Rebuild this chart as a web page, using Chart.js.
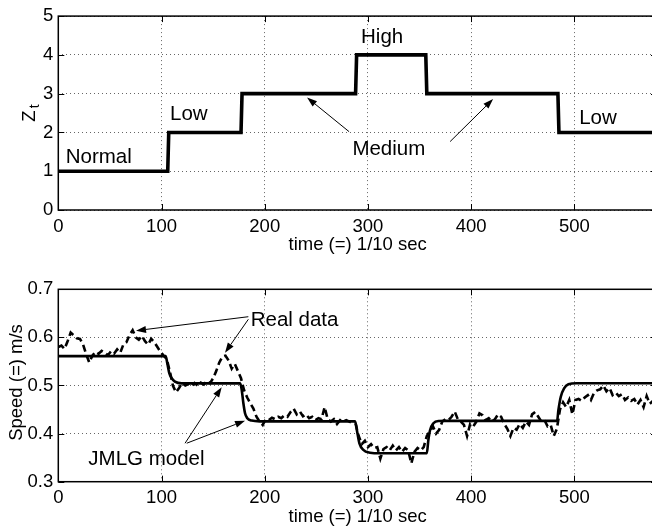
<!DOCTYPE html>
<html><head><meta charset="utf-8">
<script src="https://cdn.jsdelivr.net/npm/chart.js@4.4.1/dist/chart.umd.min.js"></script>
<style>
html,body{margin:0;padding:0;background:#fff;overflow:hidden;width:652px;height:531px}
canvas{position:absolute;left:0}
#c1{top:0}
#c2{top:265px}
</style></head><body>
<canvas id="c1" width="665" height="265"></canvas>
<canvas id="c2" width="665" height="266"></canvas>
<script>
// ---------- data ----------
const xTicks = [0, 100, 200, 300, 400, 500];
const topYTicks = [0, 1, 2, 3, 4, 5];
const botYTicks = [0.3, 0.4, 0.5, 0.6, 0.7];

// top: regime (Z_t) sequence
const stateStart = [0, 107, 178, 289, 357, 485];
const stateLevel = [1, 2, 3, 4, 3, 2];
const timeEnd = 580;

// bottom: JMLG model output
const modelT = [0, 104, 105.6, 107.6, 109.9, 113, 119.5, 176.2, 177.7, 179.3, 180.9, 183.1, 187.3, 195,
  287.5, 289.8, 291.7, 295.5, 302, 311.7, 357, 358.5, 360.2, 363.4, 368.2, 376.3,
  483.2, 484.5, 486.8, 490, 494.2, 502, 580];
const modelV = [0.561, 0.561, 0.546, 0.525, 0.515, 0.508, 0.5045, 0.5045, 0.4907, 0.463, 0.4422, 0.432, 0.427, 0.4255,
  0.4255, 0.4006, 0.3798, 0.366, 0.3603, 0.359, 0.359, 0.3867, 0.4075, 0.4214, 0.4262, 0.4265,
  0.4265, 0.449, 0.4767, 0.494, 0.5025, 0.5046, 0.5046];

// bottom: real speed data, sampled every 3 time units from t = 0
const realStep = 3;
const realV = [
  0.580,0.583,0.576,0.592,0.610,0.604,0.598,0.597,0.585,0.565,0.548,0.562,0.570,0.566,0.572,0.568,
  0.563,0.571,0.566,0.575,0.568,0.585,0.590,0.605,0.615,0.600,0.595,0.603,0.592,0.585,0.597,0.590,
  0.580,0.570,0.562,0.555,0.530,0.500,0.486,0.495,0.505,0.500,0.503,0.498,0.505,0.500,0.506,0.502,
  0.510,0.505,0.515,0.530,0.548,0.560,0.562,0.552,0.535,0.545,0.530,0.515,0.490,0.475,0.463,0.452,
  0.435,0.425,0.418,0.430,0.428,0.433,0.430,0.435,0.432,0.438,0.435,0.445,0.452,0.440,0.446,0.436,
  0.440,0.432,0.435,0.428,0.432,0.430,0.455,0.430,0.425,0.430,0.420,0.428,0.425,0.428,0.425,0.422,
  0.420,0.395,0.378,0.385,0.372,0.378,0.370,0.372,0.348,0.368,0.372,0.365,0.375,0.365,0.372,0.362,
  0.370,0.365,0.338,0.362,0.370,0.365,0.372,0.395,0.405,0.415,0.400,0.408,0.425,0.430,0.428,0.435,
  0.446,0.430,0.425,0.418,0.395,0.420,0.415,0.425,0.442,0.438,0.428,0.432,0.425,0.430,0.440,0.435,
  0.420,0.410,0.395,0.412,0.408,0.420,0.412,0.425,0.418,0.440,0.445,0.435,0.425,0.428,0.415,0.418,
  0.395,0.410,0.450,0.465,0.455,0.470,0.440,0.470,0.472,0.468,0.475,0.480,0.470,0.485,0.490,0.492,
  0.500,0.488,0.495,0.480,0.485,0.478,0.482,0.470,0.475,0.468,0.472,0.460,0.470,0.455,0.478,0.462,
  0.468
];

// annotations (data coordinates)
const topTexts = [
  {s: 'Normal', t: 7.2, v: 1.203},
  {s: 'Low', t: 108.2, v: 2.312},
  {s: 'High', t: 293.3, v: 4.304},
  {s: 'Medium', t: 284.9, v: 1.43},
  {s: 'Low', t: 504.6, v: 2.227}
];
const topArrows = [
  {t0: 281.7, v0: 2.02, t1: 241, v1: 2.90},
  {t0: 379.6, v0: 1.765, t1: 421.2, v1: 2.86}
];
const botTexts = [
  {s: 'Real data', t: 186.4, v: 0.6237},
  {s: 'JMLG model', t: 29.1, v: 0.3347}
];
const botArrows = [
  {t0: 184.1, v0: 0.643, t1: 75.3, v1: 0.614},
  {t0: 184.1, v0: 0.6376, t1: 161.5, v1: 0.568},
  {t0: 122.8, v0: 0.380, t1: 158.3, v1: 0.4963},
  {t0: 124.4, v0: 0.380, t1: 180.9, v1: 0.4268}
];

// ---------- build ----------
const FONT = '"Liberation Sans", Arial, Helvetica, sans-serif';
const stepPts = [];
stateStart.forEach((s, i) => {
  const e = i + 1 < stateStart.length ? stateStart[i + 1] - 1 : timeEnd;
  stepPts.push({x: s, y: stateLevel[i]}, {x: e, y: stateLevel[i]});
});
const modelPts = modelT.map((t, i) => ({x: t, y: modelV[i]}));
const realPts = realV.map((v, i) => ({x: i * realStep, y: v}));

const framePlugin = {
  id: 'frame',
  beforeDatasetsDraw(chart) {
    const {ctx, chartArea: a, scales: {x, y}} = chart;
    ctx.save();
    ctx.strokeStyle = '#000';
    ctx.lineWidth = 1;
    ctx.beginPath();
    x.ticks.forEach(tk => {
      const p = Math.round(x.getPixelForValue(tk.value)) + 0.5;
      ctx.moveTo(p, a.bottom); ctx.lineTo(p, a.bottom - 6);
      ctx.moveTo(p, a.top); ctx.lineTo(p, a.top + 6);
    });
    y.ticks.forEach(tk => {
      const p = Math.round(y.getPixelForValue(tk.value)) + 0.5;
      ctx.moveTo(a.left, p); ctx.lineTo(a.left + 6, p);
      ctx.moveTo(a.right, p); ctx.lineTo(a.right - 6, p);
    });
    ctx.stroke();
    ctx.lineWidth = 1.5;
    ctx.strokeRect(a.left, a.top, a.right - a.left, a.bottom - a.top);
    ctx.restore();
  }
};

function arrow(ctx, x0, y0, x1, y1) {
  const ang = Math.atan2(y1 - y0, x1 - x0);
  const L = 10, W = 3.5;
  ctx.beginPath();
  ctx.moveTo(x0, y0);
  ctx.lineTo(x1 - L * Math.cos(ang), y1 - L * Math.sin(ang));
  ctx.stroke();
  ctx.beginPath();
  ctx.moveTo(x1, y1);
  ctx.lineTo(x1 - L * Math.cos(ang) + W * Math.sin(ang), y1 - L * Math.sin(ang) - W * Math.cos(ang));
  ctx.lineTo(x1 - L * Math.cos(ang) - W * Math.sin(ang), y1 - L * Math.sin(ang) + W * Math.cos(ang));
  ctx.closePath();
  ctx.fill();
}

const annoPlugin = {
  id: 'anno',
  afterDatasetsDraw(chart, args, o) {
    const {ctx, chartArea: a, scales: {x, y}} = chart;
    ctx.save();
    ctx.fillStyle = '#000';
    ctx.strokeStyle = '#000';
    ctx.lineWidth = 1;
    ctx.font = '20.5px ' + FONT;
    ctx.textAlign = 'left';
    ctx.textBaseline = 'alphabetic';
    o.texts.forEach(tx => ctx.fillText(tx.s, x.getPixelForValue(tx.t), y.getPixelForValue(tx.v)));
    o.arrows.forEach(ar => arrow(ctx, x.getPixelForValue(ar.t0), y.getPixelForValue(ar.v0),
      x.getPixelForValue(ar.t1), y.getPixelForValue(ar.v1)));
    // x title
    ctx.font = '18.5px ' + FONT;
    ctx.textAlign = 'center';
    ctx.fillText(o.xTitle, (a.left + a.right) / 2, a.bottom + 40);
    // y title
    const cy = (a.top + a.bottom) / 2;
    ctx.save();
    if (o.yTitle === 'Z_t') {
      ctx.translate(35, cy);
      ctx.rotate(-Math.PI / 2);
      ctx.textAlign = 'left';
      ctx.font = '18.5px ' + FONT;
      const wz = ctx.measureText('Z').width;
      ctx.font = '14px ' + FONT;
      const wt = ctx.measureText('t').width;
      const start = -(wz + wt + 2) / 2;
      ctx.font = '18.5px ' + FONT;
      ctx.fillText('Z', start, 0);
      ctx.font = '14px ' + FONT;
      ctx.fillText('t', start + wz + 2, 4);
    } else {
      ctx.translate(16.7, cy - 3);
      ctx.rotate(-Math.PI / 2);
      ctx.textAlign = 'center';
      ctx.textBaseline = 'middle';
      ctx.fillText(o.yTitle, 0, 0);
    }
    ctx.restore();
    ctx.restore();
  }
};

function scalesFor(yMin, yMax, yStep, xH) {
  const tickFont = {family: FONT, size: 18.5};
  return {
    x: {
      type: 'linear', min: 0, max: timeEnd,
      afterBuildTicks: s => { s.ticks = xTicks.map(v => ({value: v})); },
      ticks: {font: tickFont, color: '#000', padding: 5.5, maxRotation: 0, autoSkip: false, includeBounds: false},
      grid: {color: '#666', lineWidth: 1, drawTicks: false},
      border: {display: false, dash: [1, 3]},
      afterFit: s => { s.height = xH; }
    },
    y: {
      type: 'linear', min: yMin, max: yMax,
      afterBuildTicks: s => { s.ticks = (yMin === 0 ? topYTicks : botYTicks).map(v => ({value: v})); },
      ticks: {font: tickFont, color: '#000', padding: 5, stepSize: yStep, includeBounds: false},
      grid: {color: '#666', lineWidth: 1, drawTicks: false},
      border: {display: false, dash: [1, 3]},
      afterFit: s => { s.width = 58.3; }
    }
  };
}

Chart.defaults.font.family = FONT;

new Chart(document.getElementById('c1'), {
  type: 'line',
  data: {datasets: [{
    data: stepPts, borderColor: '#000', borderWidth: 3.6, pointRadius: 0, tension: 0, fill: false
  }]},
  options: {
    responsive: false, animation: false, devicePixelRatio: 1,
    layout: {padding: {top: 11.7, right: 8, left: 0, bottom: 0}},
    scales: scalesFor(0, 5, 1, 55),
    plugins: {legend: {display: false}, tooltip: {enabled: false},
      anno: {texts: topTexts, arrows: topArrows, xTitle: 'time (=) 1/10 sec', yTitle: 'Z_t'}}
  },
  plugins: [framePlugin, annoPlugin]
});

new Chart(document.getElementById('c2'), {
  type: 'line',
  data: {datasets: [
    {data: realPts, borderColor: '#000', borderWidth: 2.6, borderDash: [7, 4], pointRadius: 0, tension: 0, fill: false},
    {data: modelPts, borderColor: '#000', borderWidth: 2.6, pointRadius: 0, cubicInterpolationMode: 'monotone', fill: false}
  ]},
  options: {
    responsive: false, animation: false, devicePixelRatio: 1,
    layout: {padding: {top: 24.3, right: 8, left: 0, bottom: 0}},
    scales: scalesFor(0.3, 0.7, 0.1, 49.3),
    plugins: {legend: {display: false}, tooltip: {enabled: false},
      anno: {texts: botTexts, arrows: botArrows, xTitle: 'time (=) 1/10 sec', yTitle: 'Speed (=) m/s'}}
  },
  plugins: [framePlugin, annoPlugin]
});
</script>
</body></html>
